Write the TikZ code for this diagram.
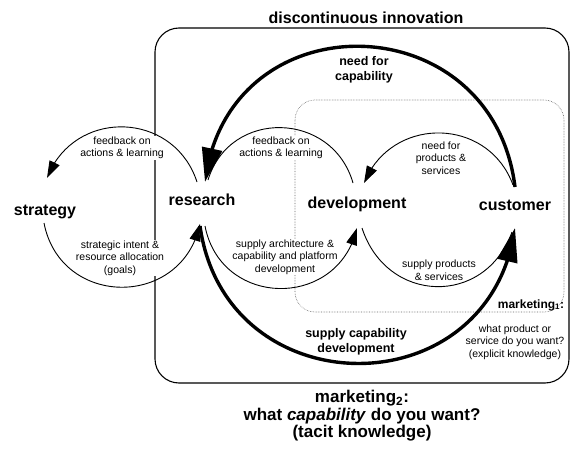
\documentclass[tikz,border=0pt]{standalone}
\usepackage{fontspec}
\setmainfont{Liberation Sans}
\usetikzlibrary{arrows.meta,bending,calc}
\tikzset{
  stage/.style={font=\bfseries\fontsize{16}{18}\selectfont,inner sep=0pt,text height=12pt,text depth=3pt},
  note/.style={font=\fontsize{10.5}{12.5}\selectfont,align=center,fill=white,inner sep=0.5pt},
  boldnote/.style={font=\bfseries\fontsize{12.5}{14.5}\selectfont,align=center,inner sep=1pt},
  flow/.style={line width=0.9pt},
  flowtip/.style={-{Triangle[length=17pt,width=11pt]}},
  bigflow/.style={line width=3.4pt,-{Triangle[length=34pt,width=20pt]}},
  outerbox/.style={line width=1.1pt,rounded corners=24pt},
  innerbox/.style={densely dotted,line width=0.6pt,black!60,rounded corners=20pt}
}

\begin{document}
\begin{tikzpicture}[x=1pt,y=1pt]
    \useasboundingbox (0,0) rectangle (571,-455);
    \draw[outerbox] (155,-28) rectangle (569,-383);
    \draw[innerbox] (295,-100) rectangle (564,-312);
    \node[font=\bfseries\fontsize{16}{18}\selectfont] (title) at (366,-18) {discontinuous innovation};
    \node[stage] (strategy) at (45,-211) {strategy};
    \node[stage] (research) at (202,-201) {research};
    \node[stage] (development) at (357,-204) {development};
    \node[stage] (customer) at (515,-206) {customer};
    \node[note] (fbleft) at (122,-148) {feedback on\\actions \& learning};
    \node[note] (goals) at (120,-258) {strategic intent \&\\resource allocation\\(goals)};
    \node[note] (fbmid) at (281,-148) {feedback on\\actions \& learning};
    \node[note] (supplyarch) at (285,-257) {supply architecture \&\\capability and platform\\development};
    \node[note] (needprod) at (441,-158) {need for\\products \&\\services};
    \node[note] (supplyprod) at (439,-270) {supply products\\\& services};
    \node[boldnote] (needcap) at (364,-70) {need for\\capability};
    \node[boldnote] (supplycap) at (356,-342) {supply capability\\development};
    \node[font=\bfseries\fontsize{12}{14}\selectfont,inner sep=0.5pt] (mkt1) at (531,-305) {marketing\textsubscript{1}:};
    \node[note] (explicit) at (515,-342) {what product or\\service do you want?\\(explicit knowledge)};
    \node[font=\bfseries\fontsize{17}{17.5}\selectfont,align=center] (mkt2) at (362,-416) {marketing\textsubscript{2}:\\what \textit{capability} do you want?\\(tacit knowledge)};
    \draw[flow,flowtip] ($(research)+(-5,19)$) to[out=108,in=69,looseness=1.28] ($(strategy)+(2,33)$);
    \draw[flow,flowtip] ($(strategy)+(-1,-12)$) to[out=-79,in=-102,looseness=1.42] ($(research)+(-2,-23)$);
    \draw[flow] ($(development)+(-4,21)$) to[out=106,in=73,looseness=1.32] ($(research)+(6,21)$);
    \draw[flow,flowtip] ($(research)+(3,-25)$) to[out=-79,in=-103,looseness=1.41] ($(development)+(0,-24)$);
    \draw[flow,flowtip] ($(customer)+(-2,21)$) to[out=110,in=68,looseness=1.25] ($(development)+(7,21)$);
    \draw[flow] ($(development)+(5,-24)$) to[out=-72,in=-110,looseness=1.36] ($(customer)+(-3,-26)$);
    \draw[bigflow] ($(customer)+(0,19)$) to[out=97,in=83,looseness=1.53] ($(research)+(3,19)$);
    \draw[bigflow] ($(research)+(-2,-25)$) to[out=-82,in=-98,looseness=1.49] ($(customer)+(0,-22)$);
  \end{tikzpicture}
\end{document}
